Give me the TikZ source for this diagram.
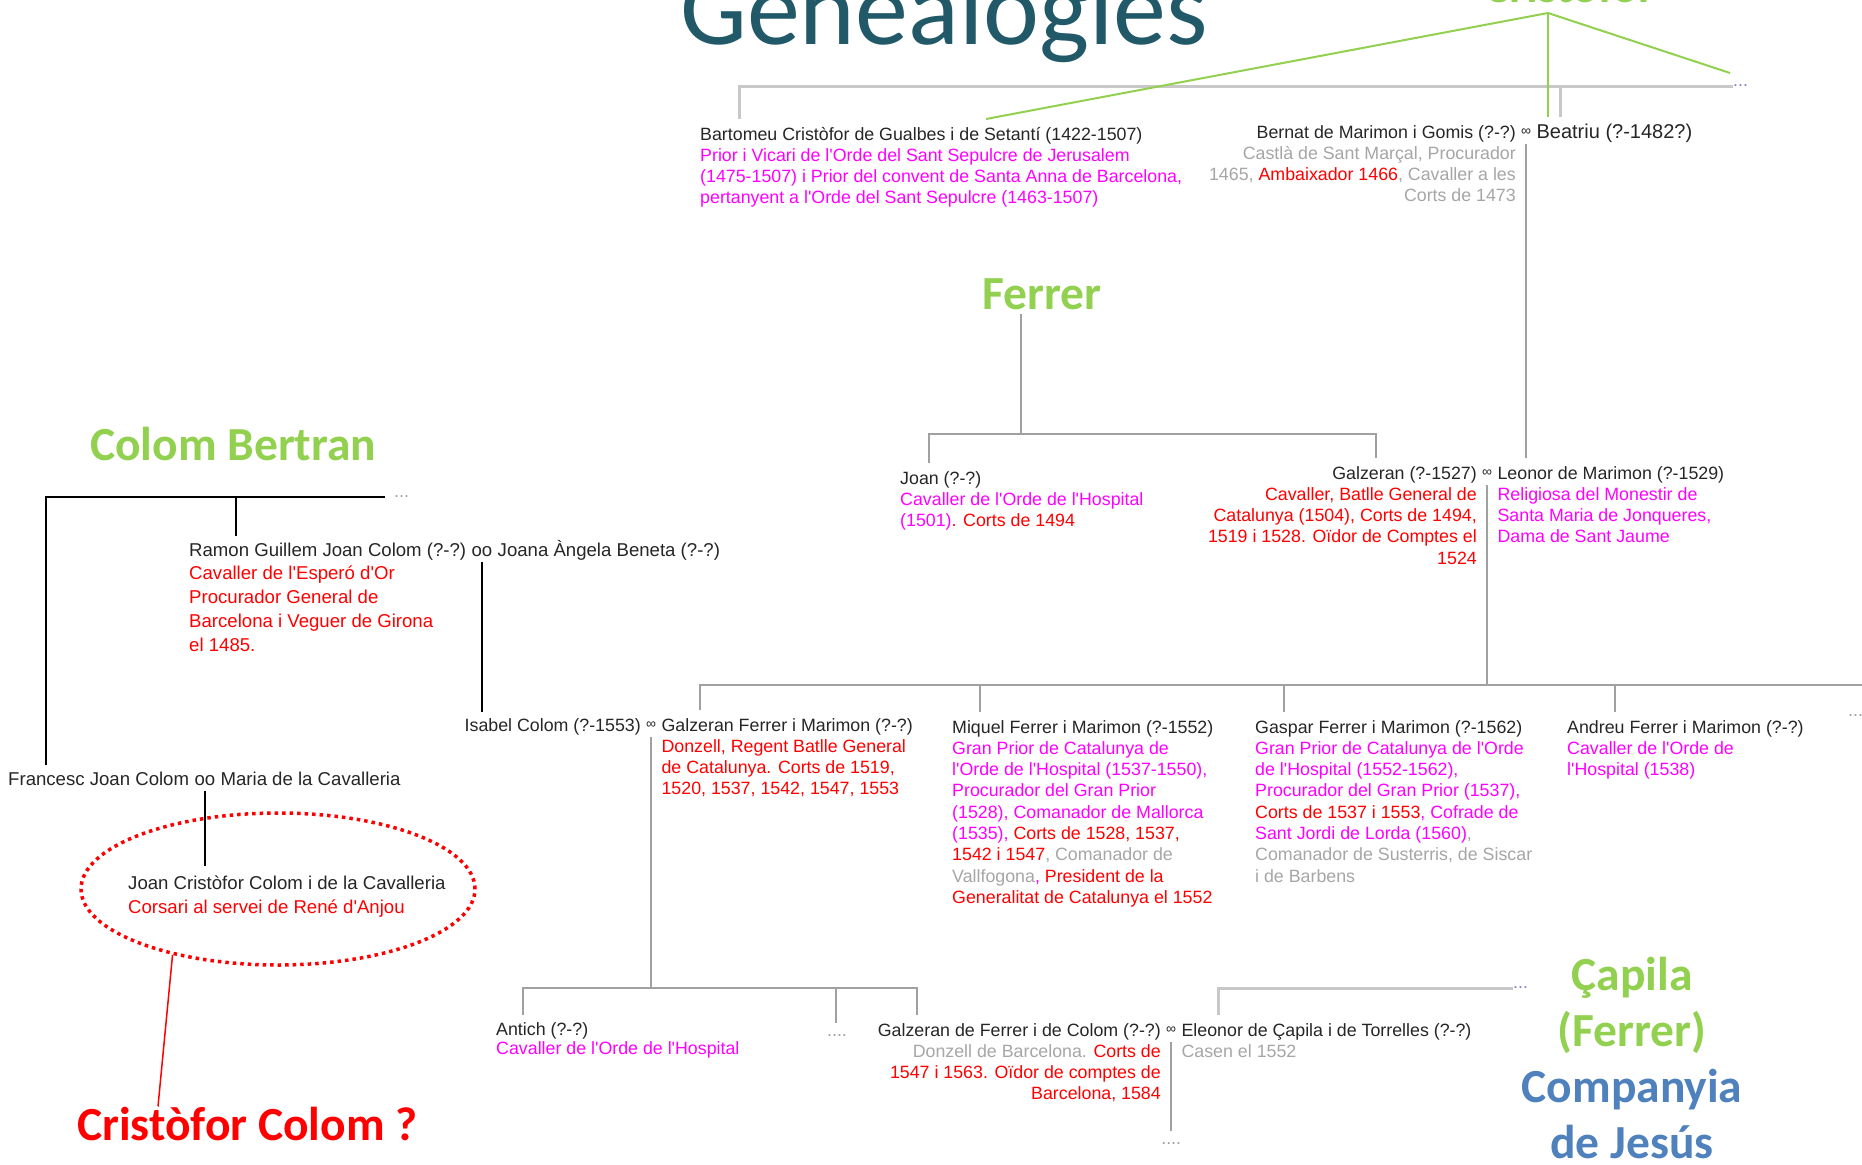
\documentclass[tikz,border=0pt]{standalone}
\usepackage{fontspec}
\setmainfont{Liberation Sans}[Ligatures=TeXOff]
\newfontfamily\headfont{Carlito}
\usetikzlibrary{calc,positioning,shapes.geometric}

\definecolor{namecol}{RGB}{38,38,38}
\definecolor{magcol}{RGB}{255,0,255}
\definecolor{redcol}{RGB}{255,0,0}
\definecolor{graycol}{RGB}{166,166,166}
\definecolor{linegray}{RGB}{160,160,160}
\definecolor{barlight}{RGB}{200,200,200}
\definecolor{headgreen}{RGB}{146,208,80}
\definecolor{headblue}{RGB}{79,129,189}
\definecolor{titleteal}{RGB}{33,89,104}
\definecolor{dotpurple}{RGB}{142,124,195}

\newcommand\bodyfont{\fontsize{17.8}{21.3}\selectfont}
\newcommand\colomfont{\fontsize{18.6}{24}\selectfont}
\newcommand\magtext[1]{\textcolor{magcol}{#1}}
\newcommand\redtext[1]{\textcolor{redcol}{#1}}
\newcommand\graytext[1]{\textcolor{graycol}{#1}}
\newcommand\leftlines[1]{\begin{tabular}[t]{@{}l@{}}#1\end{tabular}}
\newcommand\rightlines[1]{\begin{tabular}[t]{@{}r@{}}#1\end{tabular}}

\begin{document}
\begin{tikzpicture}[x=1pt, y=-1pt,
    person/.style={inner xsep=0pt, inner ysep=6pt, text=namecol, font=\bodyfont},
    leftbox/.style={person, anchor=base west},
    rightbox/.style={person, anchor=base east},
    marry/.style={person, anchor=base west, xshift=5pt, font=\fontsize{14}{14}\selectfont},
    spouse/.style={leftbox, xshift=5pt},
    heading/.style={inner sep=0pt, text=headgreen, font=\headfont\bfseries\fontsize{47.5}{56}\selectfont},
    moredots/.style={inner sep=0pt, anchor=west, text=linegray, font=\bodyfont},
    treeline/.style={draw=linegray, line width=1.5pt},
    topline/.style={draw=barlight, line width=3pt},
    colomline/.style={draw=black, line width=2pt},
    greenline/.style={draw=headgreen, line width=2pt}
]
\useasboundingbox (0,0) rectangle (1862,1164);
\clip (0,0) rectangle (1862,1164);
\fill[white] (0,0) rectangle (1862,1164);

\node (Title) [anchor=base west, inner sep=0pt, text=titleteal,
    font=\headfont\fontsize{106}{110}\selectfont] at (680,45) {Genealogies};
\node (Cristofor) [heading, anchor=base] at (1570,3) {Cristòfor};

\node (Bartomeu) [leftbox] at (700,140) {\leftlines{Bartomeu Cristòfor de Gualbes i de Setantí (1422-1507)\\
  \magtext{Prior i Vicari de l'Orde del Sant Sepulcre de Jerusalem}\\
  \magtext{(1475-1507) i Prior del convent de Santa Anna de Barcelona,}\\
  \magtext{pertanyent a l'Orde del Sant Sepulcre (1463-1507)}}};
\node (Bernat) [rightbox] at (1516,138) {\rightlines{Bernat de Marimon i Gomis (?-?)\\
  \graytext{Castlà de Sant Marçal, Procurador}\\
  \graytext{1465, }\redtext{Ambaixador 1466}\graytext{, Cavaller a les}\\
  \graytext{Corts de 1473}}};
\node (BernatInf) [marry] at (Bernat.base east) {\raisebox{3pt}{∞}};
\node (Beatriu) [spouse, font=\fontsize{20}{24}\selectfont] at (BernatInf.base east) {Beatriu (?-1482?)};
\node (TopDots) [moredots, text=dotpurple] at (1733,86) {...};

\node (Ferrer) [heading, anchor=base, inner ysep=4pt] at (1042,309) {Ferrer};
\node (Joan) [leftbox] at (900,484) {\leftlines{Joan (?-?)\\
  \magtext{Cavaller de l'Orde de l'Hospital}\\
  \magtext{(1501)}\redtext{. Corts de 1494}}};
\node (Galzeran) [rightbox] at (1477,479) {\rightlines{Galzeran (?-1527)\\
  \redtext{Cavaller, Batlle General de}\\
  \redtext{Catalunya (1504), Corts de 1494,}\\
  \redtext{1519 i 1528. Oïdor de Comptes el}\\
  \redtext{1524}}};
\node (GalzeranInf) [marry] at (Galzeran.base east) {\raisebox{3pt}{∞}};
\node (Leonor) [spouse] at (GalzeranInf.base east) {\leftlines{Leonor de Marimon (?-1529)\\
  \magtext{Religiosa del Monestir de}\\
  \magtext{Santa Maria de Jonqueres,}\\
  \magtext{Dama de Sant Jaume}}};

\node (Isabel) [rightbox] at (641,731) {Isabel Colom (?-1553)};
\node (IsabelInf) [marry] at (Isabel.base east) {\raisebox{3pt}{∞}};
\node (GalzeranF) [spouse] at (IsabelInf.base east) {\leftlines{Galzeran Ferrer i Marimon (?-?)\\
  \redtext{Donzell, Regent Batlle General}\\
  \redtext{de Catalunya. Corts de 1519,}\\
  \redtext{1520, 1537, 1542, 1547, 1553}}};
\node (Miquel) [leftbox] at (952,733) {\leftlines{Miquel Ferrer i Marimon (?-1552)\\
  \magtext{Gran Prior de Catalunya de}\\
  \magtext{l'Orde de l'Hospital (1537-1550),}\\
  \magtext{Procurador del Gran Prior}\\
  \magtext{(1528), Comanador de Mallorca}\\
  \magtext{(1535), }\redtext{Corts de 1528, 1537,}\\
  \redtext{1542 i 1547}\graytext{, Comanador de}\\
  \graytext{Vallfogona}\magtext{, }\redtext{President de la}\\
  \redtext{Generalitat de Catalunya el 1552}}};
\node (Gaspar) [leftbox] at (1255,733) {\leftlines{Gaspar Ferrer i Marimon (?-1562)\\
  \magtext{Gran Prior de Catalunya de l'Orde}\\
  \magtext{de l'Hospital (1552-1562),}\\
  \magtext{Procurador del Gran Prior (1537),}\\
  \redtext{Corts de 1537 i 1553}\magtext{, Cofrade de}\\
  \magtext{Sant Jordi de Lorda (1560)}\graytext{,}\\
  \graytext{Comanador de Susterris, de Siscar}\\
  \graytext{i de Barbens}}};
\node (Andreu) [leftbox] at (1567,733) {\leftlines{Andreu Ferrer i Marimon (?-?)\\
  \magtext{Cavaller de l'Orde de}\\
  \magtext{l'Hospital (1538)}}};
\node (KidsDots) [moredots] at (1848,716) {...};

\node (ColomBertran) [heading, anchor=base west] at (90,460) {Colom Bertran};
\node (ColomDots) [moredots] at (394,497) {...};
\node (Ramon) [leftbox, font=\colomfont] at (189,556) {Ramon Guillem Joan Colom (?-?)};
\node (RamonOo) [spouse, font=\colomfont] at (Ramon.base east) {oo};
\node (Joana) [spouse, font=\colomfont] at (RamonOo.base east) {Joana Àngela Beneta (?-?)};
\node (RamonDesc) [leftbox, font=\colomfont, text=redcol] at (189,579) {\leftlines{Cavaller de l'Esperó d'Or\\
  Procurador General de\\
  Barcelona i Veguer de Girona\\
  el 1485.}};
\node (Francesc) [leftbox, font=\colomfont] at (8,785) {Francesc Joan Colom};
\node (FrancescOo) [spouse, font=\colomfont] at (Francesc.base east) {oo};
\node (Maria) [spouse, font=\colomfont] at (FrancescOo.base east) {Maria de la Cavalleria};
\node (JoanCr) [leftbox, font=\colomfont] at (128,889) {\leftlines{Joan Cristòfor Colom i de la Cavalleria\\
  \redtext{Corsari al servei de René d'Anjou}}};
\node (Circled) [ellipse, draw=redcol, line width=3.5pt, dash pattern=on 3.5pt off 4pt,
    minimum width=394pt, minimum height=152pt] at (278,889) {};
\node (ColomQ) [heading, anchor=base west, text=redcol] at (77,1140) {Cristòfor Colom ?};

\node (Antich) [leftbox, font=\fontsize{17.8}{19.5}\selectfont] at (496,1035) {\leftlines{Antich (?-?)\\
  \magtext{Cavaller de l'Orde de l'Hospital}}};
\node (MidDots) [moredots, anchor=base, inner ysep=11pt] at (837,1036) {....};
\node (GalzeranFC) [rightbox] at (1161,1036) {\rightlines{Galzeran de Ferrer i de Colom (?-?)\\
  \graytext{Donzell de Barcelona. }\redtext{Corts de}\\
  \redtext{1547 i 1563. Oïdor de comptes de}\\
  \redtext{Barcelona, 1584}}};
\node (GalzeranFCInf) [marry] at (GalzeranFC.base east) {\raisebox{3pt}{∞}};
\node (Eleonor) [spouse] at (GalzeranFCInf.base east) {\leftlines{Eleonor de Çapila i de Torrelles (?-?)\\
  \graytext{Casen el 1552}}};
\node (BottomDots) [moredots, anchor=base, inner ysep=11pt] at (GalzeranFCInf.base |- 0,1144) {....};
\node (CapilaDots) [moredots, text=dotpurple] at (1513,988) {...};
\node (Capila) [heading, align=center, anchor=base] at (1632,1158) {Çapila\\(Ferrer)\\
  \textcolor{headblue}{Companyia}\\
  \textcolor{headblue}{de Jesús}};

\coordinate (TopBar) at (739,86);
\coordinate (BeatriuBar) at (1560,86);
\draw[topline] (Bartomeu.north -| TopBar) -- (TopBar) -- (TopBar -| TopDots.west);
\draw[topline] (BeatriuBar) -- (BeatriuBar |- Beatriu.north);
\coordinate (CrApex) at (1548,13);
\coordinate (CrLeft) at (986,119);
\coordinate (CrRight) at (1730,73);
\draw[greenline] (CrLeft) -- (CrApex) -- (CrRight);
\draw[greenline] (CrApex) -- (CrApex |- Beatriu.north);
\draw[treeline] (BernatInf.south) -- (BernatInf.south |- Leonor.north);

\coordinate (FerrerBar) at (1021,434);
\coordinate (FerrerL) at (929,434);
\coordinate (FerrerR) at (1376,434);
\draw[treeline] (Ferrer.south -| FerrerBar) -- (FerrerBar);
\draw[treeline] (FerrerL |- Joan.north) -- (FerrerL) -- (FerrerR) -- (FerrerR |- Galzeran.north);

\coordinate (KidsL) at (700,685);
\coordinate (KidsR) at (1862,685);
\draw[treeline] (GalzeranInf.south) -- (GalzeranInf.south |- KidsL);
\draw[treeline] (GalzeranF.north -| KidsL) -- (KidsL) -- (KidsR);
\foreach \kid/\kx in {Miquel/980, Gaspar/1284, Andreu/1615}
  \draw[treeline] (\kx,685) -- (\kx,685 |- \kid.north);

\coordinate (ColomL) at (46,497);
\coordinate (ColomR) at (385,497);
\coordinate (ColomMid) at (236,497);
\draw[colomline] (Francesc.north -| ColomL) -- (ColomL) -- (ColomR);
\draw[colomline] (ColomMid) -- (ColomMid |- Ramon.north);
\draw[colomline] (RamonOo.south) -- (RamonOo.south |- Isabel.north);
\draw[colomline] (FrancescOo.south) -- (FrancescOo.south |- JoanCr.north);
\draw[draw=redcol, line width=1.5pt] (Circled.212) -- ([xshift=81pt]ColomQ.north west);

\coordinate (AntichL) at (523,988);
\coordinate (AntichR) at (917,988);
\coordinate (AntichMid) at (836,988);
\draw[treeline] (IsabelInf.south) -- (IsabelInf.south |- AntichL);
\draw[treeline] (Antich.north -| AntichL) -- (AntichL) -- (AntichR) -- (AntichR |- GalzeranFC.north);
\draw[treeline] (AntichMid) -- (AntichMid |- MidDots.north);
\draw[treeline] (GalzeranFCInf.south) -- (GalzeranFCInf.south |- BottomDots.north);
\coordinate (CapilaL) at (1218,988);
\draw[topline] (Eleonor.north -| CapilaL) -- (CapilaL) -- (CapilaL -| CapilaDots.west);
\end{tikzpicture}
\end{document}
